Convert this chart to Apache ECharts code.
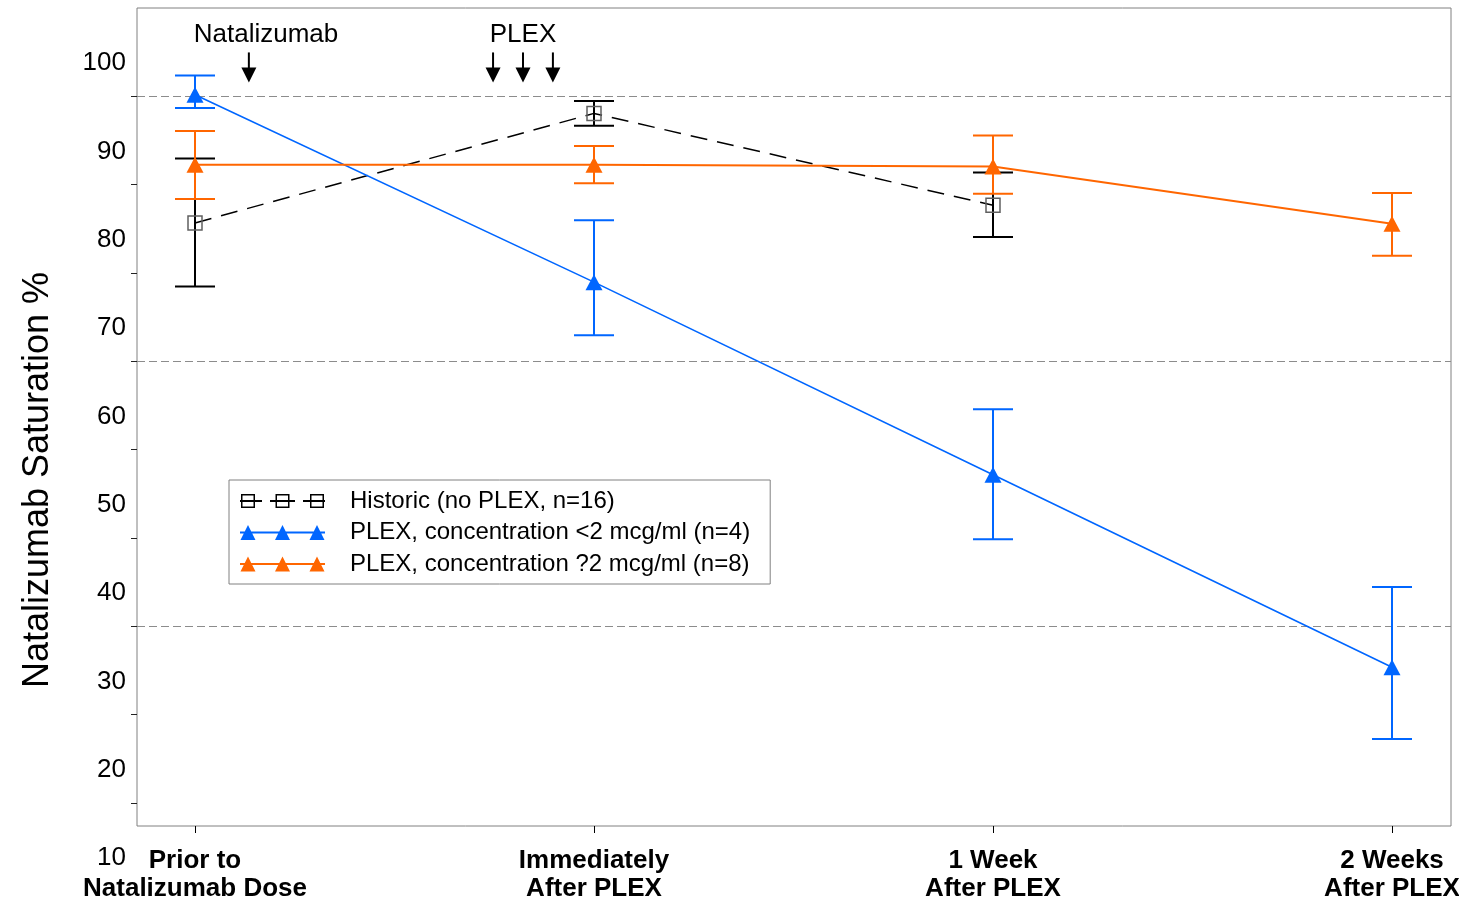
<!DOCTYPE html>
<html>
<head>
<meta charset="utf-8">
<script src="https://cdn.jsdelivr.net/npm/echarts@6/dist/echarts.min.js"></script>
<style>
html,body{margin:0;padding:0;background:#fff;}
#c{width:1459px;height:900px;}
</style>
</head>
<body>
<div id="c"></div>
<script>
// ---------------- data ----------------
const xLabels = ['Prior to\nNatalizumab Dose', 'Immediately\nAfter PLEX', '1 Week\nAfter PLEX', '2 Weeks\nAfter PLEX'];
const xPos = [0, 1, 2, 3];
const seriesNames = [
  'Historic (no PLEX, n=16)',
  'PLEX, concentration <2 mcg/ml (n=4)',
  'PLEX, concentration ?2 mcg/ml (n=8)'
];
// Historic (no PLEX)
const historicMean = [81.9, 94.3, 83.9];
const historicLow  = [74.7, 92.9, 80.3];
const historicHigh = [89.2, 95.7, 87.6];
// PLEX, <2 mcg/ml
const lowConcMean = [96.4, 75.2, 53.4, 31.6];
const lowConcLow  = [94.9, 69.2, 46.1, 23.5];
const lowConcHigh = [98.6, 82.2, 60.8, 40.7];
// PLEX, >=2 mcg/ml
const highConcMean = [88.5, 88.5, 88.3, 81.8];
const highConcLow  = [84.6, 86.4, 85.2, 78.2];
const highConcHigh = [92.3, 90.6, 91.8, 85.3];
// y tick labels (10..100 step 10)
const yLabelMin = 10, yLabelMax = 100, yLabelStep = 10;
// annotation events (x in category units)
const natalizumabArrowX = [0.135];
const plexArrowX = [0.747, 0.822, 0.897];
const noteTexts = ['Natalizumab', 'PLEX'];
const noteX = [0.178, 0.822];
const noteY = 103.2;
const arrowTop = 101.2, arrowTip = 97.8;
const yTitle = 'Natalizumab Saturation %';

// ---------------- chart ----------------
const FONT = 'Liberation Sans, Arial, sans-serif';
const BLACK = '#000000', BLUE = '#0066ff', ORANGE = '#ff6600';

function pts(means) { return means.map((v, i) => [xPos[i], v]); }
function bars(lo, hi) { return lo.map((v, i) => [xPos[i], v, hi[i]]); }

function errorBarSeries(lo, hi, color, z) {
  return {
    type: 'custom', xAxisIndex: 1, yAxisIndex: 1, z: z, silent: true, clip: false,
    data: bars(lo, hi),
    renderItem: function (params, api) {
      const x = api.value(0);
      const a = api.coord([x, api.value(1)]);
      const b = api.coord([x, api.value(2)]);
      const w = 20;
      const st = { stroke: color, lineWidth: 2 };
      return {
        type: 'group', children: [
          { type: 'line', shape: { x1: a[0], y1: a[1], x2: b[0], y2: b[1] }, style: st },
          { type: 'line', shape: { x1: a[0] - w, y1: a[1], x2: a[0] + w, y2: a[1] }, style: st },
          { type: 'line', shape: { x1: b[0] - w, y1: b[1], x2: b[0] + w, y2: b[1] }, style: st }
        ]
      };
    }
  };
}

function triIcon() {
  let p = 'path://M0 6.5 L85 6.5 L85 8.5 L0 8.5 Z';
  [8, 42.5, 77].forEach(c => { p += ' M' + (c - 7.5) + ' 15 L' + c + ' 0 L' + (c + 7.5) + ' 15 Z'; });
  return p;
}
function sqIcon() {
  let p = 'path://M0 6.5 L22 6.5 L22 8.5 L0 8.5 Z M30 6.5 L55 6.5 L55 8.5 L30 8.5 Z M63 6.5 L85 6.5 L85 8.5 L63 8.5 Z';
  [8, 42.5, 77].forEach(c => {
    p += ' M' + (c - 7) + ' 0.5 L' + (c + 7) + ' 0.5 L' + (c + 7) + ' 14.5 L' + (c - 7) + ' 14.5 Z';
    p += ' M' + (c - 5.5) + ' 2 L' + (c - 5.5) + ' 13 L' + (c + 5.5) + ' 13 L' + (c + 5.5) + ' 2 Z';
  });
  p += ' M0 0 L0.01 0 L0.01 15 L0 15 Z';
  return p;
}

const option = {
  backgroundColor: '#ffffff',
  animation: false,
  textStyle: { fontFamily: FONT },
  grid: [
    { left: 137, top: 8, width: 1314, height: 818, show: true, borderColor: '#808080', borderWidth: 1, backgroundColor: 'transparent', outerBoundsMode: 'none' },
    { left: 195, top: 8, width: 1197, height: 818, outerBoundsMode: 'none' },
    { left: 137, top: 96, width: 1314, height: 707, outerBoundsMode: 'none' },
    { left: 137, top: 96, width: 1314, height: 530, outerBoundsMode: 'none' },
    { left: 137, top: 63, width: 10, height: 795, outerBoundsMode: 'none' }
  ],
  xAxis: [
    { gridIndex: 0, type: 'value', min: 0, max: 1, show: false },
    {
      gridIndex: 1, type: 'value', min: 0, max: 3, interval: 1,
      axisLine: { show: false },
      axisTick: { show: true, length: 7, lineStyle: { color: '#000', width: 1 } },
      splitLine: { show: false },
      axisLabel: {
        show: true, margin: 21, fontSize: 26, fontWeight: 'bold', lineHeight: 28,
        color: '#000', fontFamily: FONT, showMinLabel: true, showMaxLabel: true,
        formatter: v => xLabels[Math.round(v)] || ''
      }
    },
    { gridIndex: 2, type: 'value', min: 0, max: 1, show: false },
    { gridIndex: 3, type: 'value', min: 0, max: 1, show: false },
    { gridIndex: 4, type: 'value', min: 0, max: 1, show: false }
  ],
  yAxis: [
    { gridIndex: 0, type: 'value', min: 0, max: 1, show: false },
    { gridIndex: 1, type: 'value', min: 13.64, max: 106.23, show: false },
    {
      gridIndex: 2, type: 'value', min: 20, max: 100, interval: 10,
      axisLine: { show: false },
      axisTick: { show: true, length: 6, lineStyle: { color: '#222', width: 1 } },
      axisLabel: { show: false }, splitLine: { show: false }
    },
    {
      gridIndex: 3, type: 'value', min: 40, max: 100, interval: 30,
      axisLine: { show: false }, axisTick: { show: false }, axisLabel: { show: false },
      splitLine: { show: true, showMinLine: true, showMaxLine: true, lineStyle: { color: '#8c8c8c', width: 1, type: [8, 4] } }
    },
    {
      gridIndex: 4, type: 'value', min: yLabelMin, max: yLabelMax, interval: yLabelStep,
      axisLine: { show: false }, axisTick: { show: false }, splitLine: { show: false },
      axisLabel: { show: true, margin: 11, fontSize: 26, color: '#000', fontFamily: FONT, showMinLabel: true, showMaxLabel: true }
    }
  ],
  legend: {
    orient: 'vertical', left: 229, top: 480,
    padding: [9, 20, 8, 11], itemGap: 7.5, itemWidth: 85, itemHeight: 15,
    borderColor: '#808080', borderWidth: 1, backgroundColor: '#ffffff',
    selectedMode: false,
    itemStyle: { borderWidth: 0 },
    textStyle: { fontSize: 24, color: '#000', fontFamily: FONT, lineHeight: 24, padding: [0, 0, 0, 20] },
    data: [
      { name: seriesNames[0], icon: sqIcon(), itemStyle: { color: '#000', borderWidth: 0 } },
      { name: seriesNames[1], icon: triIcon(), itemStyle: { color: BLUE, borderWidth: 0 } },
      { name: seriesNames[2], icon: triIcon(), itemStyle: { color: ORANGE, borderWidth: 0 } }
    ]
  },
  graphic: [
    {
      type: 'text', x: 38, y: 480, rotation: Math.PI / 2,
      style: { text: yTitle, font: '36px ' + FONT, fill: '#000', align: 'center', verticalAlign: 'middle', textAlign: 'center', textVerticalAlign: 'middle' }
    }
  ],
  series: [
    errorBarSeries(historicLow, historicHigh, BLACK, 2),
    {
      name: seriesNames[0], type: 'line', xAxisIndex: 1, yAxisIndex: 1, z: 3,
      data: pts(historicMean), symbol: 'rect', symbolSize: 14,
      lineStyle: { color: BLACK, width: 1.5, type: [17, 10] },
      itemStyle: { color: 'rgba(0,0,0,0)', borderColor: '#606060', borderWidth: 1.5 },
      emphasis: { disabled: true }, silent: true
    },
    errorBarSeries(lowConcLow, lowConcHigh, BLUE, 4),
    {
      name: seriesNames[1], type: 'line', xAxisIndex: 1, yAxisIndex: 1, z: 5,
      data: pts(lowConcMean), symbol: 'triangle', symbolSize: [17, 16],
      lineStyle: { color: BLUE, width: 1.6 },
      itemStyle: { color: BLUE, borderWidth: 0 },
      emphasis: { disabled: true }, silent: true
    },
    errorBarSeries(highConcLow, highConcHigh, ORANGE, 6),
    {
      name: seriesNames[2], type: 'line', xAxisIndex: 1, yAxisIndex: 1, z: 7,
      data: pts(highConcMean), symbol: 'triangle', symbolSize: [17, 16],
      lineStyle: { color: ORANGE, width: 2 },
      itemStyle: { color: ORANGE, borderWidth: 0 },
      emphasis: { disabled: true }, silent: true
    },
    {
      type: 'custom', xAxisIndex: 1, yAxisIndex: 1, z: 8, silent: true, clip: false,
      data: natalizumabArrowX.concat(plexArrowX).map(x => [x, arrowTop, arrowTip]),
      renderItem: function (params, api) {
        const x = api.value(0);
        const t = api.coord([x, api.value(1)]);
        const b = api.coord([x, api.value(2)]);
        const hl = 15, hw = 7.5;
        return {
          type: 'group', children: [
            { type: 'line', shape: { x1: t[0], y1: t[1], x2: b[0], y2: b[1] - hl + 1 }, style: { stroke: '#000', lineWidth: 2 } },
            { type: 'polygon', shape: { points: [[b[0] - hw, b[1] - hl], [b[0] + hw, b[1] - hl], [b[0], b[1]]] }, style: { fill: '#000' } }
          ]
        };
      }
    },
    {
      type: 'custom', xAxisIndex: 1, yAxisIndex: 1, z: 8, silent: true, clip: false,
      data: noteX.map(x => [x, noteY]),
      renderItem: function (params, api) {
        const p = api.coord([api.value(0), api.value(1)]);
        return {
          type: 'text', x: p[0], y: p[1],
          style: { text: noteTexts[params.dataIndex], fill: '#000', font: '26px ' + FONT, align: 'center', verticalAlign: 'middle', textAlign: 'center', textVerticalAlign: 'middle' }
        };
      }
    }
  ]
};

const chart = echarts.init(document.getElementById('c'), null, { renderer: 'canvas' });
chart.setOption(option);
</script>
</body>
</html>
